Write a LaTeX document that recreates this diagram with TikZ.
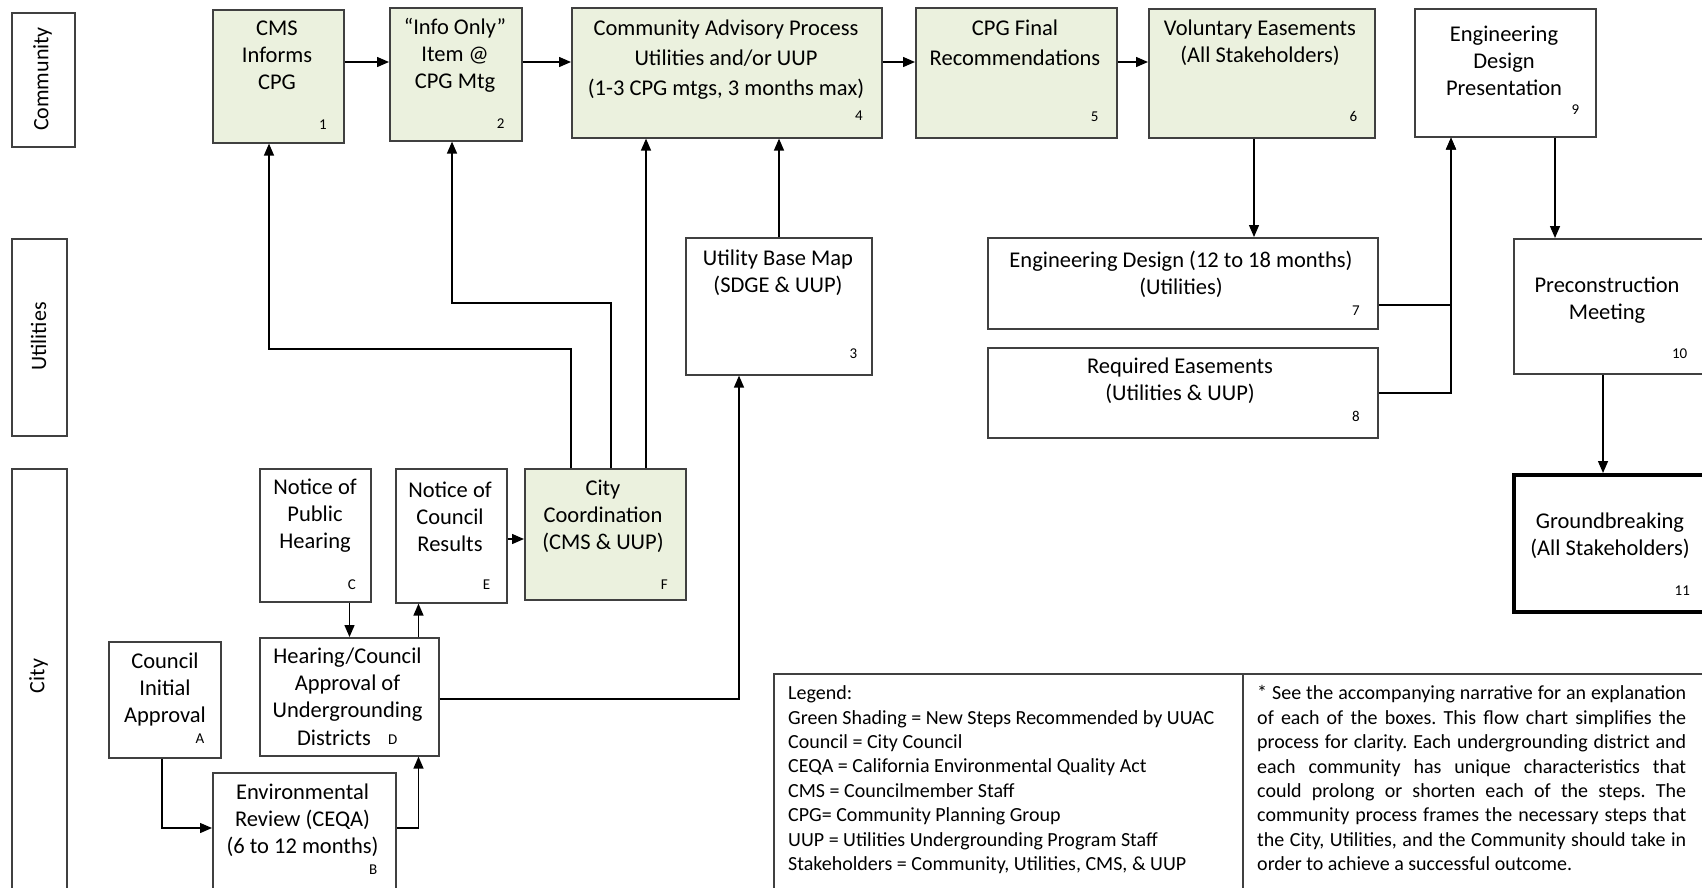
\documentclass[tikz,border=0pt]{standalone}
\usepackage{fontspec}
\setmainfont{Carlito}
\usetikzlibrary{arrows.meta}
\definecolor{gfill}{HTML}{EBF1DE}
\definecolor{bord}{HTML}{404040}
\frenchspacing
\begin{document}
\begin{tikzpicture}[x=1pt,y=-1pt,
  box/.style={draw=bord, line width=1.6pt, rectangle, inner sep=0pt, anchor=north west},
  gbox/.style={box, fill=gfill},
  txt/.style={font=\fontsize{22.5}{27}\selectfont, align=center, inner sep=0pt},
  wtxt/.style={font=\fontsize{22.5}{30}\selectfont, align=center, inner sep=0pt},
  num/.style={font=\fontsize{15}{18}\selectfont, inner sep=0pt},
  lanetxt/.style={font=\fontsize{22}{26}\selectfont, rotate=90, inner sep=0pt},
  legtxt/.style={font=\fontsize{20}{24.4}\selectfont, align=left, inner sep=0pt, anchor=north west},
  ln/.style={line width=1.4pt, draw=black},
  arr/.style={ln, -{Triangle[length=12pt,width=10pt]}}]
\useasboundingbox (0,0) rectangle (1702,887);
\clip (0,0) rectangle (1702,887);
\fill[white] (0,0) rectangle (1702,887);

% lanes
\node[box, minimum width=63pt, minimum height=134pt] (lc) at (11,12) {};
\node[box, minimum width=55pt, minimum height=197pt] (lu) at (11,238) {};
\node[box, minimum width=55pt, minimum height=440pt] (lci) at (11,468) {};
\node[lanetxt] (lct) at (42.5,79) {Community};
\node[lanetxt] (lut) at (38.5,336.5) {Utilities};
\node[lanetxt] (lcit) at (38.5,676) {City};

% community boxes
\node[gbox, minimum width=131pt, minimum height=133pt] (b1) at (212,9) {};
\node[gbox, minimum width=132pt, minimum height=133pt] (b2) at (389,7) {};
\node[gbox, minimum width=310pt, minimum height=130pt] (b4) at (571,7) {};
\node[gbox, minimum width=201pt, minimum height=130pt] (b5) at (915,7) {};
\node[gbox, minimum width=226pt, minimum height=129pt] (b6) at (1148,8) {};
\node[box, minimum width=181pt, minimum height=128pt] (b9) at (1414,8) {};
% utilities boxes
\node[box, minimum width=186pt, minimum height=137pt] (b3) at (685,237) {};
\node[box, minimum width=390pt, minimum height=91pt] (b7) at (987,237) {};
\node[box, minimum width=390pt, minimum height=90pt] (b8) at (987,347) {};
\node[box, minimum width=196pt, minimum height=135pt] (b10) at (1513,238) {};
\node[box, draw=black, line width=4pt, minimum width=200pt, minimum height=137pt] (b11) at (1512,473) {};
% city boxes
\node[box, minimum width=111pt, minimum height=133pt] (bC) at (259,468) {};
\node[box, minimum width=111pt, minimum height=134pt] (bE) at (395,468) {};
\node[gbox, minimum width=161pt, minimum height=131pt] (bF) at (524,468) {};
\node[box, minimum width=112pt, minimum height=116pt] (bA) at (108,641) {};
\node[box, minimum width=179pt, minimum height=118pt] (bD) at (259,637) {};
\node[box, minimum width=183pt, minimum height=140pt] (bB) at (212,772) {};
% legend
\node[box, minimum width=469pt, minimum height=240pt] (lg1) at (773,673) {};
\node[box, minimum width=480pt, minimum height=240pt] (lg2) at (1242,673) {};

% texts
\node[txt] (t1) at (277,55) {CMS\\Informs\\CPG};
\node[txt] (t2) at (455,55) {“Info Only”\\Item @\\CPG Mtg};
\node[wtxt] (t4) at (726,60) {Community Advisory Process\\Utilities and/or UUP\\(1-3 CPG mtgs, 3 months max)};
\node[wtxt] (t5) at (1015,42.3) {CPG Final\\Recommendations};
\node[txt] (t6) at (1260,43) {Voluntary Easements\\(All Stakeholders)};
\node[txt] (t9) at (1504,61.3) {Engineering\\Design\\Presentation};
\node[txt] (t3) at (778,272.5) {Utility Base Map\\(SDGE \& UUP)};
\node[txt] (t7) at (1181,274) {Engineering Design (12 to 18 months)\\(Utilities)};
\node[txt] (t8) at (1180,381) {Required Easements\\(Utilities \& UUP)};
\node[txt] (t10) at (1607,300) {Preconstruction\\Meeting};
\node[txt] (t11) at (1610,536) {Groundbreaking\\(All Stakeholders)};
\node[txt] (tC) at (315,516) {Notice of\\Public\\Hearing};
\node[txt] (tE) at (450,516.5) {Notice of\\Council\\Results};
\node[txt] (tF) at (603,516.5) {City\\Coordination\\(CMS \& UUP)};
\node[txt] (tA) at (165,689) {Council\\Initial\\Approval};
\node[txt] (tD) at (347.5,685) {Hearing/Council\\Approval of\\Undergrounding};
\node[txt] (tD2) at (334,737.7) {Districts};
\node[txt] (tB) at (302.5,820.5) {Environmental\\Review (CEQA)\\(6 to 12 months)};

% numbers
\node[num] (n1) at (323,125) {1};
\node[num] (n2) at (500.6,124) {2};
\node[num] (n4) at (859,115.7) {4};
\node[num] (n5) at (1094.6,116.7) {5};
\node[num] (n6) at (1353.4,116.7) {6};
\node[num] (n9) at (1575.3,110) {9};
\node[num] (n7) at (1356,310.7) {7};
\node[num] (n8) at (1356,416.7) {8};
\node[num] (n10) at (1679.7,354) {10};
\node[num] (n11) at (1682.3,591) {11};
\node[num] (n3) at (853.3,354) {3};
\node[num] (nC) at (351.8,585) {C};
\node[num] (nE) at (486.6,585) {E};
\node[num] (nF) at (664.2,585) {F};
\node[num] (nA) at (200,738.3) {A};
\node[num] (nD) at (392.8,739.3) {D};
\node[num] (nB) at (373.2,870) {B};

% legend texts
\node[legtxt] (lgt1) at (788,685.5) {Legend:\\Green Shading = New Steps Recommended by UUAC\\Council = City Council\\CEQA = California  Environmental Quality Act\\CMS = Councilmember Staff\\CPG= Community Planning Group\\UUP = Utilities Undergrounding Program Staff\\Stakeholders = Community, Utilities, CMS, \& UUP};
\node[legtxt] (lgt2) at (1257,685.5) {\makebox[429pt][s]{* See the accompanying narrative for an explanation}\\
\makebox[429pt][s]{of each of the boxes. This flow chart simplifies the}\\
\makebox[429pt][s]{process for clarity. Each undergrounding district and}\\
\makebox[429pt][s]{each community has unique characteristics that}\\
\makebox[429pt][s]{could prolong or shorten each of the steps. The}\\
\makebox[429pt][s]{community process frames the necessary steps that}\\
\makebox[429pt][s]{the City, Utilities, and the Community should take in}\\
order to achieve a successful outcome.};

% routing coordinates
\coordinate (hrow) at (0,62);
\coordinate (x67) at (1254,0);
\coordinate (x79) at (1451,0);
\coordinate (y7) at (0,305);
\coordinate (y8) at (0,393);
\coordinate (x910) at (1555,0);
\coordinate (x1011) at (1603,0);
\coordinate (xF1) at (571,0);
\coordinate (yF1) at (0,349);
\coordinate (x1) at (269,0);
\coordinate (xF2) at (611,0);
\coordinate (yF2) at (0,303);
\coordinate (x2) at (452,0);
\coordinate (xF4) at (646,0);
\coordinate (x34) at (779,0);
\coordinate (yD3) at (0,699);
\coordinate (x3) at (739,0);
\coordinate (xCD) at (349.5,0);
\coordinate (xDE) at (418.5,0);
\coordinate (yEF) at (0,539);
\coordinate (xAB) at (162,0);
\coordinate (yAB) at (0,828);

% connectors
\draw[arr] (b1.east |- hrow) -- (b2.west |- hrow);
\draw[arr] (b2.east |- hrow) -- (b4.west |- hrow);
\draw[arr] (b4.east |- hrow) -- (b5.west |- hrow);
\draw[arr] (b5.east |- hrow) -- (b6.west |- hrow);
\draw[arr] (b6.south -| x67) -- (b7.north -| x67);
\draw[arr] (b7.east |- y7) -- (x79 |- y7) -- (b9.south -| x79);
\draw[arr] (b8.east |- y8) -- (x79 |- y8) -- (b9.south -| x79);
\draw[arr] (b9.south -| x910) -- (b10.north -| x910);
\draw[arr] (b10.south -| x1011) -- (b11.north -| x1011);
\draw[arr] (bF.north -| xF1) -- (xF1 |- yF1) -- (x1 |- yF1) -- (b1.south -| x1);
\draw[arr] (bF.north -| xF2) -- (xF2 |- yF2) -- (x2 |- yF2) -- (b2.south -| x2);
\draw[arr] (bF.north -| xF4) -- (b4.south -| xF4);
\draw[arr] (b3.north -| x34) -- (b4.south -| x34);
\draw[arr] (bD.east |- yD3) -- (x3 |- yD3) -- (b3.south -| x3);
\draw[arr] (bC.south -| xCD) -- (bD.north -| xCD);
\draw[arr] (bD.north -| xDE) -- (bE.south -| xDE);
\draw[arr] (bE.east |- yEF) -- (bF.west |- yEF);
\draw[arr] (bA.south -| xAB) -- (xAB |- yAB) -- (bB.west |- yAB);
\draw[arr] (bB.east |- yAB) -- (xDE |- yAB) -- (bD.south -| xDE);
\end{tikzpicture}
\end{document}
